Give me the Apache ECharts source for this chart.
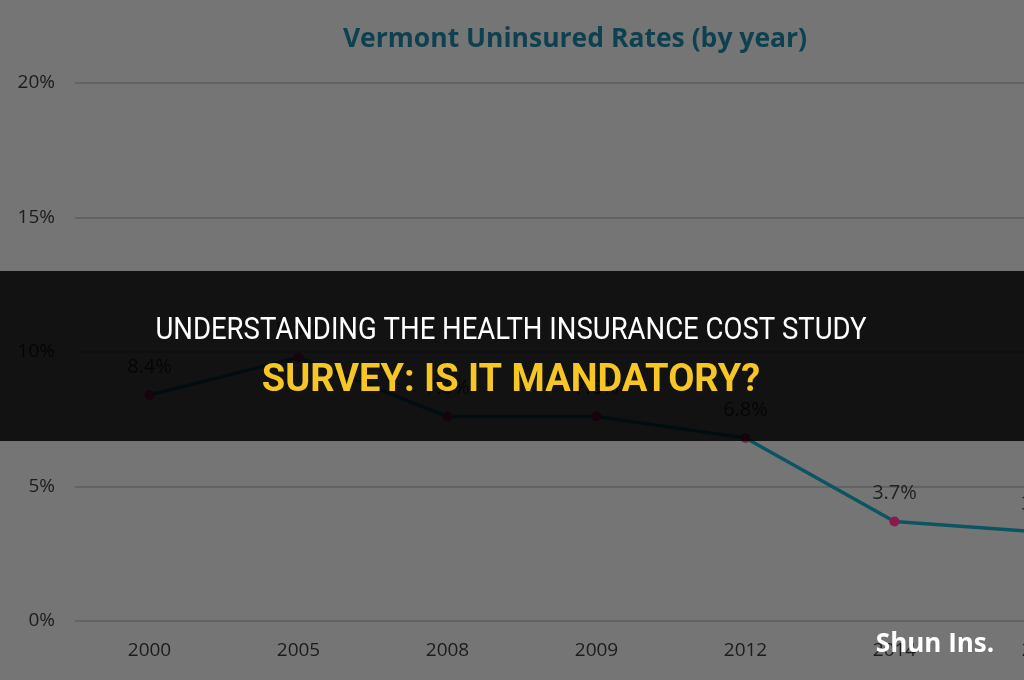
<!DOCTYPE html>
<html><head><meta charset="utf-8">
<script src="https://cdn.jsdelivr.net/npm/echarts@6/dist/echarts.min.js"></script>
<style>html,body{margin:0;padding:0;background:#757575;overflow:hidden;width:1024px;height:680px}#c{width:1130px;height:680px}</style>
</head><body><div id="c"></div>
<script>
const years = ['2000','2005','2008','2009','2012','2014','2015'];
const rates = [8.4, 9.8, 7.6, 7.6, 6.8, 3.7, 3.3];
const yTicks = [0, 5, 10, 15, 20];
const chartTitle = 'Vermont Uninsured Rates (by year)';
const bannerLine1 = 'UNDERSTANDING THE HEALTH INSURANCE COST STUDY';
const bannerLine2 = 'SURVEY: IS IT MANDATORY?';
const watermark = 'Shun Ins.';

const chart = echarts.init(document.getElementById('c'), null, {renderer:'canvas'});
chart.setOption({
  backgroundColor: '#757575',
  animation: false,
  title: {
    text: chartTitle, left: 570, top: 21, textAlign: 'center',
    textStyle: {fontFamily: 'Open Sans', fontWeight: 'bold', fontSize: 26.5, color: '#0e4150'}
  },
  grid: {left: 75, right: 12, top: 83, bottom: 59, containLabel: false},
  xAxis: {type: 'category', data: years, boundaryGap: true,
    axisLine: {show: false}, axisTick: {show: false},
    axisLabel: {fontFamily: 'Open Sans', fontSize: 19, color: '#1c1c1c', margin: 20}},
  yAxis: {type: 'value', min: yTicks[0], max: yTicks[yTicks.length-1], interval: 5,
    axisLine: {show: false}, axisTick: {show: false},
    splitLine: {lineStyle: {color: '#5e5e5e', width: 1.5}},
    axisLabel: {fontFamily: 'Open Sans', fontSize: 19, color: '#1c1c1c', margin: 20, formatter: v => v + '%'}},
  series: [{
    type: 'line', data: rates,
    symbol: 'circle', symbolSize: 10,
    lineStyle: {color: '#0c5462', width: 3.5},
    itemStyle: {color: '#8a1a4e'},
    label: {show: true, position: 'top', distance: 13, fontFamily: 'Open Sans', fontSize: 20,
            color: '#222', formatter: p => p.value.toFixed(1) + '%'}
  }],
  graphic: [
    {type: 'rect', z: 100, shape: {x: 0, y: 271, width: 1130, height: 170},
     style: {fill: 'rgba(0,0,0,0.845)'}},
    {type: 'text', z: 101, x: 511, y: 331, scaleX: 0.86,
     style: {text: bannerLine1, fill: '#ffffff', font: '32px Roboto', textAlign: 'center', textVerticalAlign: 'middle'}},
    {type: 'text', z: 101, x: 511, y: 381, scaleX: 1.0,
     style: {text: bannerLine2, fill: '#f6c624', font: 'bold 38px Roboto', textAlign: 'center', textVerticalAlign: 'middle'}},
    {type: 'text', z: 101, x: 935, y: 645,
     style: {text: watermark, fill: '#ffffff', font: 'bold 26px "Open Sans"', textAlign: 'center', textVerticalAlign: 'middle'}}
  ]
});
</script></body></html>
